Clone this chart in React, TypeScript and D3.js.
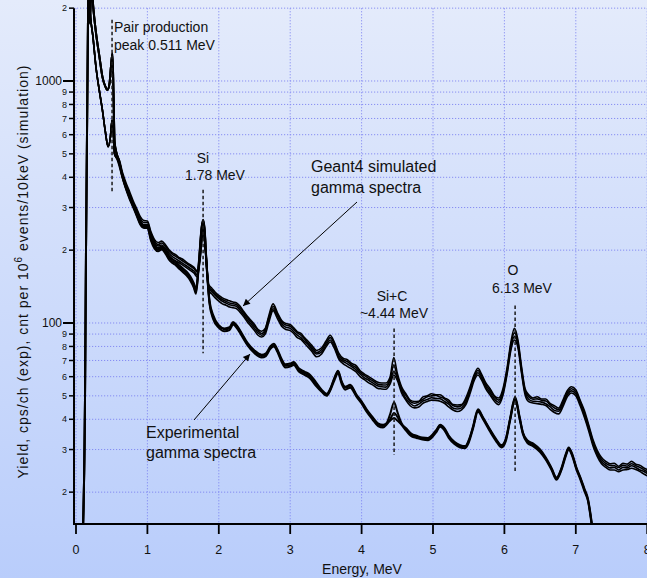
import React from "react";
import * as d3 from "d3";

const WIDTH = 647;
const HEIGHT = 578;
const FONT = "'Liberation Sans', Arial, Helvetica, sans-serif";

// ---- Experimental spectra (cps/ch) ----
// shared low-energy part (threshold rise, pair-production region)
const EXP_LOW_E = [0.098, 0.126, 0.14, 0.168, 0.178, 0.195, 0.215, 0.24, 0.28, 0.33, 0.37, 0.41, 0.44, 0.47, 0.49, 0.51, 0.525, 0.54, 0.57];
const EXP_LOW_V = [14, 48, 200, 1790, 2600, 1730, 2600, 2050, 1580, 1250, 1040, 950, 917, 980, 1150, 1300, 900, 560, 500];

const EXP_E = [
  0.6, 0.65, 0.7, 0.75, 0.8, 0.85, 0.9, 0.95, 1.0, 1.05,
  1.1, 1.15, 1.2, 1.25, 1.3, 1.35, 1.4, 1.45, 1.5, 1.55,
  1.6, 1.65, 1.68, 1.72, 1.76, 1.78, 1.8, 1.83, 1.87, 1.92,
  2.0, 2.08, 2.15, 2.2, 2.25, 2.32, 2.4, 2.5, 2.6, 2.66,
  2.72, 2.77, 2.82, 2.88, 2.93, 3.0, 3.05, 3.12, 3.2, 3.28,
  3.36, 3.44, 3.51, 3.56, 3.62, 3.67, 3.72, 3.77, 3.84, 3.93,
  4.0, 4.07, 4.15, 4.23, 4.3, 4.35, 4.4, 4.455, 4.5, 4.56,
  4.62, 4.7, 4.77, 4.85, 4.93, 5.0, 5.05, 5.1, 5.16, 5.22,
  5.3, 5.38, 5.45, 5.5, 5.56, 5.63, 5.7, 5.8, 5.88, 5.96,
  6.02, 6.08, 6.15, 6.21, 6.26, 6.32, 6.4, 6.5, 6.58, 6.66,
  6.73, 6.8, 6.86, 6.9, 6.95, 7.01, 7.06, 7.12, 7.17, 7.22,
  7.26,
];

const EXP_A = [
  470, 405, 362, 330, 305, 280, 258, 250, 250, 222,
  206, 201, 204, 197, 186, 180, 176, 170, 165, 160,
  153, 143, 134, 175, 248, 266, 245, 172, 122, 106,
  97, 94, 95, 100, 97, 90, 82, 76, 73, 74,
  79, 81, 77, 70, 66.5, 67, 68, 64, 62, 60,
  56, 52.5, 50.5, 53, 59, 63, 57, 54, 55, 50,
  47, 43.6, 40.5, 38, 37.5, 38.5, 42, 47, 43, 38.5,
  36.5, 34.5, 33.9, 33.3, 33.2, 34.5, 36, 37.8, 36.5, 34,
  32, 31, 30.8, 32.5, 37, 43.6, 40.5, 36, 33, 31,
  33, 40, 49, 41, 35, 32.5, 31.5, 29.7, 27.5, 25,
  22.8, 25, 28.5, 30.3, 28.5, 25, 23, 20.5, 18.6, 15,
  12,
];

const EXP_B = [
  466, 400, 358, 326, 301, 277, 255, 247, 247, 219,
  203, 198, 201, 194, 183, 177, 173, 167, 162, 157,
  150, 140, 132, 172, 245, 264, 243, 170, 120, 104,
  95.5, 92.5, 93.5, 98.5, 95.5, 88.5, 81, 75, 72, 73,
  78, 80, 76, 69, 65.5, 66, 67, 63, 61, 59,
  55, 52, 50, 52.5, 58, 62, 56, 53, 54, 49.5,
  46.5, 43, 40, 37.5, 37, 38, 40, 42.5, 41, 38,
  36, 34, 33.5, 33, 32.8, 34, 35.5, 37.3, 36, 33.5,
  31.6, 30.6, 30.4, 32, 36.5, 43, 40, 35.5, 32.6, 30.6,
  32.5, 39.5, 48.3, 40.5, 34.6, 32, 31, 29.3, 27.2, 24.7,
  22.5, 24.7, 28.2, 30, 28.2, 24.7, 22.7, 20.2, 18.4, 14.8,
  12,
];

const EXP_C = [
  474, 408, 366, 333, 308, 283, 261, 253, 253, 225,
  209, 204, 207, 200, 189, 183, 179, 173, 168, 163,
  156, 146, 138, 178, 250, 267, 247, 174, 124, 108,
  98, 95, 96, 101, 98, 91, 83, 77, 74, 75,
  80, 82, 78, 71, 67.5, 68, 69, 65, 63, 61,
  57, 53, 51, 53.5, 59.5, 63.5, 57.5, 54.5, 55.5, 50.5,
  47.5, 44, 41, 38.5, 38, 38.5, 39.5, 40.5, 39.5, 38,
  36.8, 34.8, 34.2, 33.6, 33.5, 34.8, 36.3, 38, 36.8, 34.3,
  32.3, 31.3, 31, 32.8, 37.3, 44, 40.8, 36.3, 33.3, 31.3,
  33.3, 40.4, 49.5, 41.4, 35.3, 32.8, 31.8, 30, 27.8, 25.2,
  23, 25.2, 28.8, 30.6, 28.8, 25.2, 23.2, 20.7, 18.8, 15.2,
  12,
];

// ---- Geant4 simulated spectra (counts per 1e6 events / 10 keV) ----
const SIM_LOW_E = [0.18, 0.19, 0.24, 0.28, 0.33, 0.37, 0.41, 0.45, 0.48, 0.505, 0.525, 0.54, 0.57];
const SIM_LOW_V = [2600, 2100, 1500, 1140, 900, 758, 620, 535, 580, 690, 600, 500, 480];

const SIM_E = [
  0.6, 0.65, 0.7, 0.75, 0.8, 0.85, 0.9, 0.95, 1.0, 1.05,
  1.1, 1.15, 1.2, 1.25, 1.3, 1.35, 1.4, 1.45, 1.5, 1.55,
  1.6, 1.65, 1.7, 1.74, 1.78, 1.82, 1.86, 1.9, 1.95, 2.0,
  2.05, 2.1, 2.15, 2.2, 2.25, 2.3, 2.35, 2.4, 2.45, 2.5,
  2.55, 2.6, 2.65, 2.7, 2.76, 2.82, 2.88, 2.94, 3.0, 3.05,
  3.1, 3.15, 3.2, 3.25, 3.3, 3.37, 3.44, 3.5, 3.56, 3.62,
  3.68, 3.74, 3.8, 3.86, 3.92, 3.98, 4.04, 4.1, 4.16, 4.22,
  4.28, 4.34, 4.4, 4.45, 4.5, 4.56, 4.62, 4.68, 4.74, 4.8,
  4.86, 4.92, 4.98, 5.04, 5.1, 5.16, 5.22, 5.28, 5.34, 5.4,
  5.46, 5.52, 5.58, 5.63, 5.68, 5.74, 5.8, 5.86, 5.92, 5.98,
  6.04, 6.09, 6.14, 6.19, 6.24, 6.29, 6.34, 6.4, 6.46, 6.52,
  6.58, 6.64, 6.7, 6.76, 6.82, 6.88, 6.94, 7.0, 7.06, 7.12,
  7.18, 7.24, 7.3, 7.36, 7.42, 7.48, 7.54, 7.6, 7.66, 7.72,
  7.78, 7.84, 7.9, 7.96, 8.02,
];

const SIM_A = [
  476, 420, 380, 349, 320, 297, 275, 265, 264, 238,
  221, 215, 218, 211, 201, 195, 191, 186, 183, 178,
  174, 170, 164, 194, 248, 194, 144, 139.5, 134, 130,
  127, 125, 123.5, 122, 121, 117, 111.5, 106.5, 102.5, 98.5,
  94, 92.5, 95, 107, 120, 110.5, 102.5, 99.5, 98.5, 95.5,
  92, 90.5, 87, 84, 81, 77, 79, 84, 89, 83,
  75, 71.5, 70.5, 68, 66.8, 63.5, 61.5, 60, 58.5, 57,
  56.5, 56.5, 60, 72, 62, 54.5, 51, 48, 47.4, 47.5,
  49.5, 50, 51, 50.5, 50.5, 49, 48, 46, 45.8, 46,
  49, 54.5, 61.5, 65, 61.5, 56.5, 53.5, 50, 49, 53.5,
  66, 83, 95, 85, 66, 53.5, 50.5, 49, 49.6, 48.5,
  48.5, 46.5, 45.5, 44.5, 48, 52.5, 54.5, 53, 48, 43.5,
  38, 33, 29.8, 27.8, 26.8, 26.2, 26.3, 25.6, 26.3, 26.1,
  26.8, 26.1, 25.8, 25.1, 24.7,
];

const SIM_B = [
  468, 412, 373, 342, 314, 292, 270, 260, 260, 234,
  218, 211, 214, 208, 198, 192, 188, 184, 180, 176,
  172, 168, 162, 192, 247, 192, 141, 137, 132, 128,
  125, 123, 121, 120, 119, 115, 110, 105, 101, 97,
  93, 90.5, 94, 105, 117, 109, 101, 98, 97, 94,
  91, 89, 86, 82.5, 79.5, 75.5, 77.5, 82.5, 87, 82,
  73.5, 70.5, 69.2, 67, 65.5, 62.5, 60.6, 59, 57.6, 56,
  55.5, 55.4, 58.5, 67, 60.5, 53.4, 50.2, 47.4, 46.6, 47.2,
  48.4, 49.6, 50, 50.2, 49.4, 48.6, 47, 45.6, 45, 45.6,
  48, 53.4, 60.5, 63.6, 60.6, 55.5, 52.5, 49.6, 48, 52.4,
  64.5, 81, 91, 83, 64.5, 52.5, 49.6, 48.4, 48.6, 47.9,
  47.6, 46, 44.6, 43.8, 47, 51.5, 53.5, 52, 47.5, 42.5,
  37.4, 32.4, 29.2, 27.3, 26.3, 25.8, 25.7, 25.3, 25.8, 25.6,
  26.2, 25.7, 25.3, 24.7, 24.2,
];

const SIM_C = [
  460, 406, 366, 337, 309, 287, 265, 255, 255, 230,
  214, 208, 210, 204, 194, 188, 184, 180, 176, 172,
  168, 164, 158, 188, 243, 188, 139, 135, 130, 126,
  123, 121, 119, 118, 117, 113, 108, 103, 99, 95,
  91, 89, 92, 103, 114.5, 107, 99, 96, 95, 92,
  89, 87, 84, 81.5, 78, 74.5, 76, 81, 85, 80,
  72, 69.5, 67.8, 66, 64.2, 61.5, 59.3, 58, 56.4, 55,
  54.5, 54.3, 57.5, 63, 59.5, 52.6, 48.8, 46.6, 45.4, 46.2,
  47.6, 48.3, 49.1, 48.8, 48.6, 47.4, 46.2, 44.5, 44.1, 44.6,
  47, 52.5, 59.4, 62.3, 59.4, 54.5, 51.5, 48.5, 47, 51.4,
  63.3, 79, 88, 81, 63.3, 51.5, 48.4, 47.5, 47.4, 47.1,
  46.4, 45.1, 43.5, 43.2, 46, 50.5, 52.4, 51, 46.6, 41.6,
  36.6, 31.7, 28.7, 26.7, 25.8, 25.2, 25.3, 24.7, 25.3, 25.2,
  25.7, 25.3, 24.7, 24.3, 23.7,
];

const SIM_D = [
  451, 398, 359, 330, 303, 281, 260, 250, 250, 225,
  210, 204, 206, 200, 190, 184, 180, 177, 173, 169,
  165, 161, 155, 185, 240, 185, 136, 132, 127, 123,
  120, 118.5, 116.5, 115.5, 114.5, 110.5, 106, 101, 97, 93,
  89, 87.5, 90, 100.5, 112.5, 104.5, 97, 94, 93, 90.5,
  87, 85.5, 82.5, 79.5, 76.5, 72.5, 74.5, 79.5, 83.5, 78.5,
  71, 68, 66.2, 64.6, 63, 60, 58.3, 56.6, 55.4, 53.8,
  53.4, 53.2, 56, 61, 58, 51.4, 48, 45.5, 44.6, 45,
  46.6, 47.4, 48, 47.9, 47.5, 46.6, 45, 43.7, 43.1, 43.8,
  46, 51.3, 58.2, 61, 58.2, 53.4, 50.4, 47.5, 46, 50.4,
  62, 77, 85, 79, 62, 50.5, 47.3, 46.7, 46.4, 46.1,
  45.6, 44, 42.7, 42.1, 45.1, 49.5, 51.4, 50, 45.6, 40.8,
  35.9, 31.1, 28.1, 26.2, 25.3, 24.7, 24.7, 24.3, 24.7, 24.8,
  25.1, 24.8, 24.3, 23.7, 23.2,
];

const X_TICKS = [0, 1, 2, 3, 4, 5, 6, 7, 8];
const Y_MAJOR = [100, 1000];

type Pt = [number, number];

function zip(es: number[], vs: number[]): Pt[] {
  const n = Math.min(es.length, vs.length);
  const out: Pt[] = [];
  for (let i = 0; i < n; i++) out.push([es[i], vs[i]]);
  return out;
}

export default function App() {
  const x = d3.scaleLinear().domain([0, 8]).range([76, 647.2]);
  const y = d3.scaleLog().domain([14.77, 2000]).range([524, 8.15]);

  const line = d3
    .line<Pt>()
    .x((d) => x(d[0]))
    .y((d) => y(d[1]))
    .curve(d3.curveMonotoneX);

  const expLow = zip(EXP_LOW_E, EXP_LOW_V);
  const simLow = zip(SIM_LOW_E, SIM_LOW_V);
  const expCurves = [EXP_A, EXP_B, EXP_C].map((v) => expLow.concat(zip(EXP_E, v)));
  const simCurves = [SIM_A, SIM_B, SIM_C, SIM_D].map((v) => simLow.concat(zip(SIM_E, v)));

  const yTicks = y.ticks().filter((v) => v >= 15 && v <= 2000);
  const leadDigit = (v: number) => Math.round(v / Math.pow(10, Math.floor(Math.log10(v) + 1e-9)));

  const axisX = 74;
  const axisY = 524;

  const dashed = (e: number, v0: number, v1: number, key: string) => (
    <line
      key={key}
      x1={x(e)}
      x2={x(e)}
      y1={y(v0)}
      y2={y(v1)}
      stroke="#1a1a1a"
      strokeWidth={1.5}
      strokeDasharray="3.5,2.5"
    />
  );

  return (
    <svg
      width={WIDTH}
      height={HEIGHT}
      viewBox={`0 0 ${WIDTH} ${HEIGHT}`}
      style={{ position: "absolute", left: 0, top: 0, display: "block" }}
      fontFamily={FONT}
    >
      <defs>
        <linearGradient id="bgGrad" x1="0" y1="0" x2="0" y2="1">
          <stop offset="0" stopColor="#e4ebfb" />
          <stop offset="1" stopColor="#b9cdfb" />
        </linearGradient>
        <clipPath id="plotClip">
          <rect x={axisX + 1} y={0} width={WIDTH - axisX} height={axisY - 1} />
        </clipPath>
        <marker
          id="arrowHead"
          viewBox="0 0 10 10"
          refX="10"
          refY="5"
          markerWidth="10"
          markerHeight="7"
          markerUnits="userSpaceOnUse"
          orient="auto"
        >
          <path d="M0,0 L10,5 L0,10 z" fill="#000" />
        </marker>
      </defs>

      <rect x={0} y={0} width={WIDTH} height={HEIGHT} fill="url(#bgGrad)" />

      {/* grid */}
      <g stroke="#7b80f2" strokeWidth={1} strokeDasharray="1.2,1.8" opacity={0.85}>
        {yTicks.map((v) => (
          <line key={`gy${v}`} x1={axisX} x2={WIDTH} y1={y(v)} y2={y(v)} />
        ))}
        {X_TICKS.map((e) => (
          <line key={`gx${e}`} x1={x(e)} x2={x(e)} y1={y(2000)} y2={axisY} />
        ))}
      </g>

      {/* spectra */}
      <g clipPath="url(#plotClip)" fill="none" stroke="#000" strokeLinejoin="round">
        {simCurves.map((c, i) => (
          <path key={`sim${i}`} d={line(c) || ""} strokeWidth={1.6} />
        ))}
        {expCurves.map((c, i) => (
          <path key={`exp${i}`} d={line(c) || ""} strokeWidth={2} />
        ))}
      </g>

      {/* axes */}
      <line x1={axisX} x2={axisX} y1={y(2000)} y2={axisY + 1} stroke="#000" strokeWidth={2} />
      <line x1={axisX - 1} x2={WIDTH} y1={axisY} y2={axisY} stroke="#000" strokeWidth={2} />

      {yTicks.map((v) => {
        const major = Y_MAJOR.includes(v);
        return (
          <g key={`yt${v}`}>
            <line
              x1={major ? axisX - 11 : axisX - 5}
              x2={axisX}
              y1={y(v)}
              y2={y(v)}
              stroke="#000"
              strokeWidth={major ? 2 : 1.5}
            />
            <text
              x={major ? axisX - 12 : axisX - 7}
              y={y(v)}
              dy="0.35em"
              textAnchor="end"
              fontSize={major ? 12 : 9}
              fill="#111"
            >
              {major ? String(v) : String(leadDigit(v))}
            </text>
          </g>
        );
      })}

      {X_TICKS.map((e) => (
        <g key={`xt${e}`}>
          <line x1={x(e)} x2={x(e)} y1={axisY} y2={axisY + 10} stroke="#000" strokeWidth={1.8} />
          <text x={x(e)} y={554} textAnchor="middle" fontSize={12.5} fill="#111">
            {e}
          </text>
        </g>
      ))}

      <text x={362} y={574} textAnchor="middle" fontSize={14} fill="#111">
        Energy, MeV
      </text>

      <text
        transform="translate(28,272) rotate(-90)"
        textAnchor="middle"
        fontSize={14}
        fill="#111"
        textLength={413}
        lengthAdjust="spacing"
      >
        Yield, cps/ch (exp), cnt per 10
        <tspan dy={-6} fontSize={10}>6</tspan>
        <tspan dy={6}> events/10keV (simulation)</tspan>
      </text>

      {/* peak markers */}
      {dashed(0.505, 1790, 348, "dPair")}
      {dashed(1.78, 355, 75, "dSi")}
      {dashed(4.455, 95, 28.5, "dSiC")}
      {dashed(6.15, 118, 24, "dO")}

      <g fontSize={14} fill="#111">
        <text x={114} y={32}>Pair production</text>
        <text x={114} y={50}>peak 0.511 MeV</text>
        <text x={203} y={163} textAnchor="middle">Si</text>
        <text x={215} y={180} textAnchor="middle">1.78 MeV</text>
        <text x={392} y={301} textAnchor="middle">Si+C</text>
        <text x={394} y={318} textAnchor="middle">~4.44 MeV</text>
        <text x={513} y={275} textAnchor="middle">O</text>
        <text x={522} y={293} textAnchor="middle">6.13 MeV</text>
      </g>

      <g fontSize={16} fill="#111">
        <text x={311} y={172}>Geant4 simulated</text>
        <text x={311} y={193}>gamma spectra</text>
        <text x={146} y={438}>Experimental</text>
        <text x={146} y={458}>gamma spectra</text>
      </g>

      <line x1={357} y1={202} x2={243} y2={306} stroke="#000" strokeWidth={1} markerEnd="url(#arrowHead)" />
      <line x1={194} y1={420} x2={250} y2={354} stroke="#000" strokeWidth={1} markerEnd="url(#arrowHead)" />
    </svg>
  );
}
